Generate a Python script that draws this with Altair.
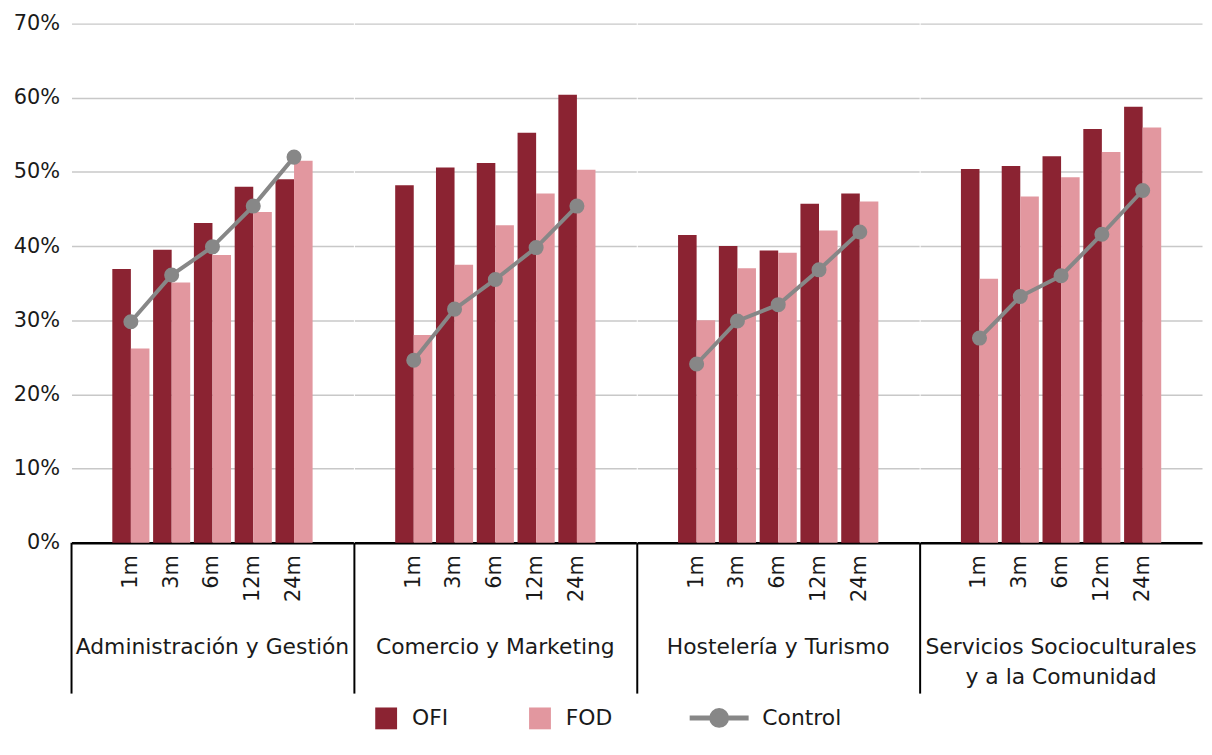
import altair as alt
import pandas as pd

groups = ["Administración y Gestión", "Comercio y Marketing", "Hostelería y Turismo",
          "Servicios Socioculturales|y a la Comunidad"]
times = ["1m", "3m", "6m", "12m", "24m"]
series_names = ["OFI", "FOD", "Control"]
ofi = [[36.9, 39.5, 43.1, 48.0, 49.0],
       [48.2, 50.6, 51.2, 55.3, 60.4],
       [41.5, 40.0, 39.4, 45.7, 47.1],
       [50.4, 50.8, 52.1, 55.8, 58.8]]
fod = [[26.2, 35.1, 38.8, 44.6, 51.5],
       [28.0, 37.5, 42.8, 47.1, 50.3],
       [30.0, 37.0, 39.1, 42.1, 46.0],
       [35.6, 46.7, 49.3, 52.7, 56.0]]
control = [[29.8, 36.1, 39.9, 45.4, 52.0],
           [24.6, 31.5, 35.5, 39.8, 45.4],
           [24.1, 29.9, 32.1, 36.8, 41.9],
           [27.6, 33.2, 36.0, 41.6, 47.5]]
colors = ["#8B2332", "#E2979F", "#878787"]
y_ticks = [0, 0.1, 0.2, 0.3, 0.4, 0.5, 0.6, 0.7]

rows = []
for gi, g in enumerate(groups):
    for ti, t in enumerate(times):
        for s, arr in zip(series_names, [ofi, fod, control]):
            rows.append({"group": g, "time": t, "series": s, "value": arr[gi][ti] / 100})
df = pd.DataFrame(rows)

W, H = 284, 523
FONT = "DejaVu Sans"
TXT = "#1a1a1a"

x_enc = alt.X("time:N", sort=times, title=None,
              scale=alt.Scale(paddingInner=0.09, paddingOuter=1),
              axis=alt.Axis(labelAngle=270, labelFontSize=21, labelFont=FONT, labelColor=TXT,
                            ticks=False, domainColor="#000000", domainWidth=2.5, labelPadding=12,
                            grid=False))


def y_enc(first):
    return alt.Y("value:Q", title=None,
                 scale=alt.Scale(domain=[0, 0.7], nice=False),
                 axis=alt.Axis(format=".0%", values=y_ticks, labelFontSize=21, labelFont=FONT,
                               labelColor=TXT, domain=False, ticks=False, labelPadding=12,
                               labels=first, gridColor="#C8C8C8", gridWidth=1.5))


ctrl = "M-2.7,0H2.7M-0.68,0A0.68,0.68 0 1,0 0.68,0A0.68,0.68 0 1,0 -0.68,0Z"

charts = []
for i, g in enumerate(groups):
    first = i == 0
    bars = alt.Chart().mark_bar().encode(
        x=x_enc,
        xOffset=alt.XOffset("series:N", sort=["OFI", "FOD"]),
        y=y_enc(first),
        color=alt.Color("series:N",
                        scale=alt.Scale(domain=["OFI", "FOD"], range=colors[:2]),
                        legend=alt.Legend(
                            title=None, orient="none", direction="horizontal",
                            legendX=306, legendY=689,
                            labelFontSize=22, labelFont=FONT, labelColor=TXT,
                            symbolType="square", symbolSize=484, symbolStrokeWidth=0,
                            labelOffset=15, columnPadding=81)),
    ).transform_filter(alt.FieldOneOfPredicate(field="series", oneOf=["OFI", "FOD"]))

    line = alt.Chart().mark_line(strokeWidth=4).encode(
        x=x_enc, y=y_enc(first),
        stroke=alt.Stroke("series:N",
                          scale=alt.Scale(domain=["Control"], range=colors[2:]),
                          legend=alt.Legend(
                              title=None, orient="none", legendX=639, legendY=686,
                              labelFontSize=22, labelFont=FONT, labelColor=TXT,
                              symbolType=ctrl, symbolSize=484, symbolStrokeWidth=5,
                              symbolFillColor="#878787", symbolStrokeColor="#878787",
                              labelOffset=30)),
    ).transform_filter(alt.datum.series == "Control")

    points = alt.Chart().mark_circle(color="#878787", size=230, opacity=1).encode(
        x=x_enc, y=y_enc(first)
    ).transform_filter(alt.datum.series == "Control")

    sep = alt.Chart().mark_rule(color="#000000", strokeWidth=2).encode(
        x=alt.value(0), y=alt.value(H), y2=alt.value(H + 152)
    ).transform_filter((alt.datum.series == "Control") & (alt.datum.time == "1m"))

    labels = alt.Chart().mark_text(font=FONT, fontSize=22, color=TXT, align="center",
                                   baseline="top", lineBreak="|", lineHeight=30).encode(
        x=alt.value(W / 2), y=alt.value(H + 95), text="group:N"
    ).transform_filter((alt.datum.series == "Control") & (alt.datum.time == "1m"))

    panel = alt.layer(bars, line, points, sep, labels, data=df).transform_filter(
        alt.datum.group == g
    ).properties(width=W, height=H)
    charts.append(panel)

chart = alt.hconcat(*charts, spacing=0).properties(
    padding={"left": 5, "top": 2, "right": 2, "bottom": 0}
).configure(font=FONT).configure_view(strokeWidth=0)

chart.save("out.html", embed_options={"renderer": "svg", "actions": False})
